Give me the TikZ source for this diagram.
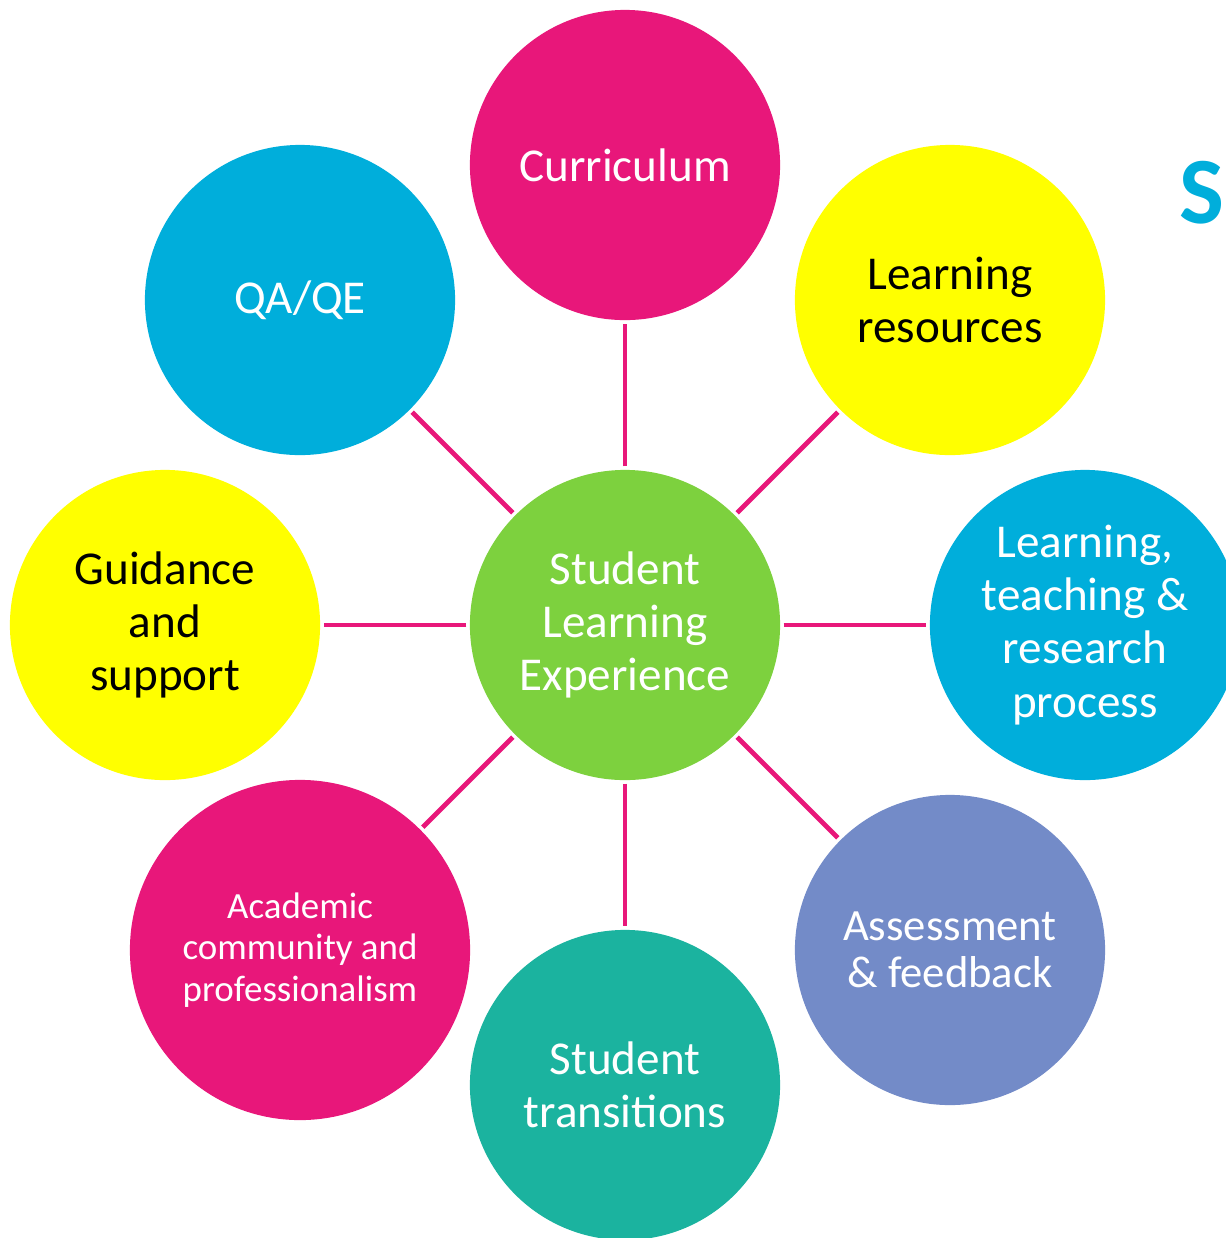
\documentclass[tikz,border=0pt]{standalone}
\usepackage{fontspec}
\setmainfont{Carlito}
\definecolor{hotpink}{HTML}{E8177A}
\definecolor{sunny}{HTML}{FFFF00}
\definecolor{skyblue}{HTML}{00AEDB}
\definecolor{leafgreen}{HTML}{7DD13E}
\definecolor{seateal}{HTML}{1BB39F}
\definecolor{slateblue}{HTML}{738BC8}
\tikzset{
  bubble/.style={circle, inner sep=0pt, minimum size=3.1cm, align=center,
    text=white, font=\fontsize{13.4}{15.1}\selectfont},
  spoke/.style={draw=hotpink, line width=1.4pt, shorten <=0.8pt, shorten >=0.8pt}
}
\begin{document}
\begin{tikzpicture}[x=0.01cm,y=-0.01cm]

            \useasboundingbox (0,0) rectangle (1226,1238);

            \node[bubble, fill=leafgreen] (sle) at (625,625) {Student\\Learning\\Experience};

            \node[bubble, fill=hotpink] (cur) at (625,165) {Curriculum};
            \node[bubble, fill=sunny, text=black] (res) at (950,300) {Learning\\resources};
            \node[bubble, fill=skyblue] (ltr) at (1085,625) {Learning,\\teaching \&\\research\\process};
            \node[bubble, fill=slateblue, font=\fontsize{12.7}{13.4}\selectfont] (ass) at (950,950) {Assessment\\\& feedback};
            \node[bubble, fill=seateal] (tra) at (625,1085) {Student\\transitions};
            \node[bubble, fill=hotpink, minimum size=3.4cm, font=\fontsize{10.5}{11.7}\selectfont] (aca) at (300,950) {Academic\\community and\\professionalism};
            \node[bubble, fill=sunny, text=black] (gui) at (165,625) {Guidance\\and\\support};
            \node[bubble, fill=skyblue] (qa) at (300,300) {QA/QE};

            \node[text=skyblue, font=\fontsize{27}{27}\bfseries\selectfont, inner sep=0pt] (s) at (1202,193) {S};

            \foreach \n in {cur,res,ltr,ass,tra,aca,gui,qa}
                \draw[spoke] (sle) -- (\n);
        \end{tikzpicture}
\end{document}
